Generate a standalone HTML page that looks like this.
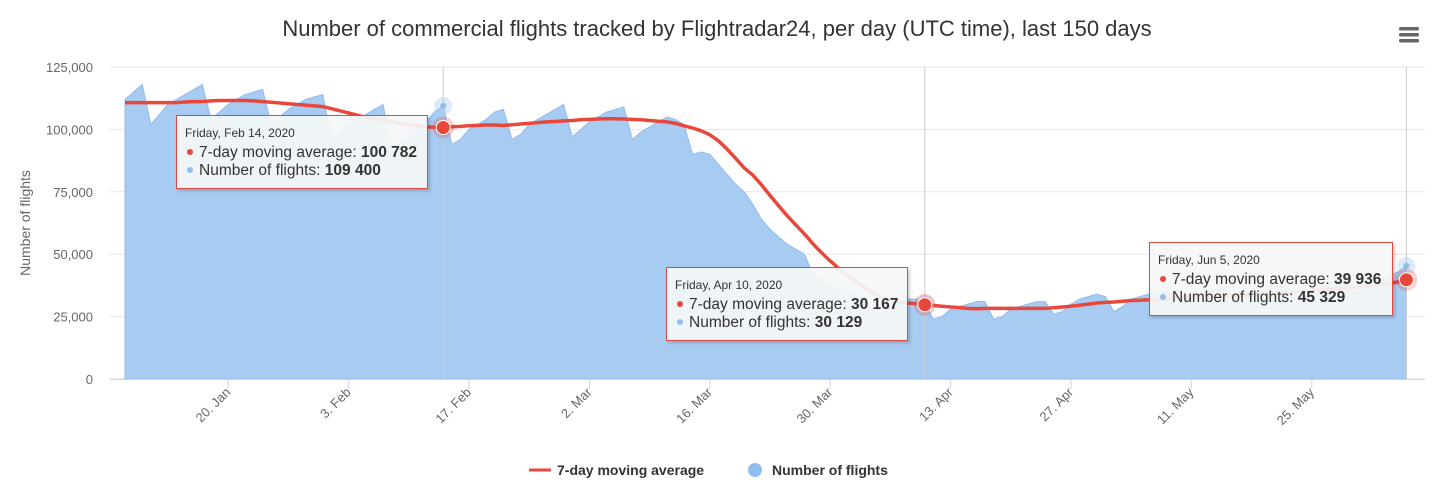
<!DOCTYPE html>
<html><head><meta charset="utf-8"><style>
body{margin:0;background:#fff;font-family:"Liberation Sans",sans-serif;}
svg{display:block}
.tt{position:absolute;background:rgba(244,246,248,0.93);border:1.5px solid #e04a43;box-shadow:2px 2px 3px rgba(0,0,0,0.2);padding:8px 8px;font-size:15.5px;color:#333;line-height:18px;}
.tt .d{font-size:12px;margin-bottom:2px}
.dot{display:inline-block;width:6px;height:6px;border-radius:3px;margin:0 6px 2px 2px;vertical-align:middle}
</style></head><body>
<div style="position:relative;width:1439px;height:500px">
<svg id="c" width="1439" height="500"></svg>
<div class="tt" style="left:176px;top:115px;width:234px"><div class="d">Friday, Feb 14, 2020</div><div><span class="dot" style="background:#e8473c"></span>7-day moving average: <b>100 782</b></div><div><span class="dot" style="background:#90bdf0"></span>Number of flights: <b>109 400</b></div></div>
<div class="tt" style="left:666px;top:267px;width:224px"><div class="d">Friday, Apr 10, 2020</div><div><span class="dot" style="background:#e8473c"></span>7-day moving average: <b>30 167</b></div><div><span class="dot" style="background:#90bdf0"></span>Number of flights: <b>30 129</b></div></div>
<div class="tt" style="left:1149px;top:242px;width:226px"><div class="d">Friday, Jun 5, 2020</div><div><span class="dot" style="background:#e8473c"></span>7-day moving average: <b>39 936</b></div><div><span class="dot" style="background:#90bdf0"></span>Number of flights: <b>45 329</b></div></div>
</div>
<script>
const flights=[112,115,118,
102,106,110,112,114,116,118,
104,107,110,112,114,115,116,
102,105,108,110,112,113,114,
96,99,102,104,106,108,110,
92,95,98,101,103,107,109.4,
94,96,100,102,104,107,108,
96,98,102,104,106,108,110,
97,100,103,105,107,108,109,
96,99,101,103,105,104,102,
90,91,90,86,82,78,75,
70,64,60,57,54,52,50,
42,39,37,36,35,34,33,
26,27,30,31,32,32,30.1,
24,25,28,29,30,31,31,
24,25,28,29,30,31,31,
26,27,30,32,33,34,33,
27,29,32,33,34,35,35,
29,31,33,34,35,36,36,
30,32,34,35,36,37,37,
32,34,36,37,38,39,39,
34,36,39,40,41,43,45.3];
const yTicks=[0,25000,50000,75000,100000,125000];
const yTickLabels=["0","25,000","50,000","75,000","100,000","125,000"];
const xTickIdx=[12,26,40,54,68,82,96,110,124,138];
const xTickLabels=["20. Jan","3. Feb","17. Feb","2. Mar","16. Mar","30. Mar","13. Apr","27. Apr","11. May","25. May"];
const markIdx=[37,93,149];

const NS="http://www.w3.org/2000/svg",svg=document.getElementById('c');
const X=i=>125+i*8.6, Y=v=>379-v/125000*312;
function el(t,a,p){const e=document.createElementNS(NS,t);for(const k in a)e.setAttribute(k,a[k]);(p||svg).appendChild(e);return e;}
const ma=flights.map((v,i)=>{const s=i<6?flights.slice(0,7):flights.slice(i-6,i+1);return s.reduce((a,b)=>a+b,0)/s.length;});

let t=el('text',{x:717,y:36,'text-anchor':'middle','font-size':22,fill:'#333'});t.textContent='Number of commercial flights tracked by Flightradar24, per day (UTC time), last 150 days';

let menu=el('g',{});
[27,33,39].forEach(y=>el('rect',{x:1399,y:y,width:20,height:3.5,rx:1.5,fill:'#666'},menu));

yTicks.forEach((v,k)=>{
 let g=el('line',{x1:110,x2:1425,y1:Y(v),y2:Y(v),stroke:'#e6e6e6'});
 let l=el('text',{x:93,y:Y(v)+5,'text-anchor':'end','font-size':13,fill:'#666'});l.textContent=yTickLabels[k];
 
});
let yt=el('text',{transform:'translate(30,223) rotate(-90)','text-anchor':'middle','font-size':14,fill:'#666'});yt.textContent='Number of flights';


let d='M'+X(0)+','+Y(0);flights.forEach((v,i)=>d+=' L'+X(i)+','+Y(v*1000));d+=' L'+X(flights.length-1)+','+Y(0)+'Z';
let area=el('path',{d:d,fill:'#a8cbf2',stroke:'#8fbcee','stroke-width':1});

markIdx.forEach(i=>{let c=el('line',{x1:X(i),x2:X(i),y1:67,y2:379,stroke:'#ccc'});});

el('line',{x1:110,x2:1425,y1:379.5,y2:379.5,stroke:'#ccd6eb'});
xTickIdx.forEach((i,k)=>{
 el('line',{x1:X(i),x2:X(i),y1:379,y2:389,stroke:'#ccd6eb'});
 let l=el('text',{x:X(i)+3,y:393,'text-anchor':'end','font-size':13,fill:'#666',transform:`rotate(-45 ${X(i)+3} 393)`});l.textContent=xTickLabels[k];
 
});

let ld='';ma.forEach((v,i)=>ld+=(i?' L':'M')+X(i)+','+Y(v*1000));
let line=el('path',{d:ld,fill:'none',stroke:'#e8473c','stroke-width':3.5,'stroke-linejoin':'round'});

markIdx.forEach(i=>{
 el('circle',{cx:X(i),cy:Y(flights[i]*1000),r:9,fill:'#a8cbf2',opacity:0.4});
 el('circle',{cx:X(i),cy:Y(flights[i]*1000),r:3,fill:'#8fbcee'});
 el('circle',{cx:X(i),cy:Y(ma[i]*1000),r:11,fill:'#e8473c',opacity:0.25});
 let p=el('circle',{cx:X(i),cy:Y(ma[i]*1000),r:7,fill:'#e8473c',stroke:'#fff','stroke-width':1});
 
});

let lg1=el('g',{});
el('line',{x1:529,x2:551,y1:470,y2:470,stroke:'#e8473c','stroke-width':3},lg1);
let a=el('text',{x:557,y:475,'font-size':14,'font-weight':'bold',fill:'#333'},lg1);a.textContent='7-day moving average';
let lg2=el('g',{});
el('circle',{cx:755,cy:470,r:7,fill:'#90bdf0'},lg2);
let b=el('text',{x:772,y:475,'font-size':14,'font-weight':'bold',fill:'#333'},lg2);b.textContent='Number of flights';
</script>
</body></html>
